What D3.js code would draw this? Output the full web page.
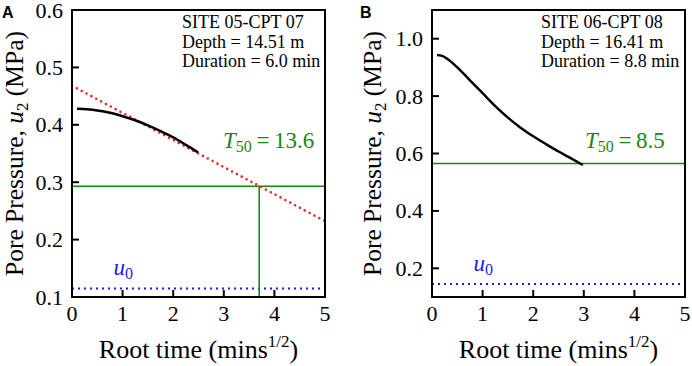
<!DOCTYPE html>
<html><head><meta charset="utf-8">
<script src="https://cdn.jsdelivr.net/npm/d3@7"></script>
<style>html,body{margin:0;padding:0;background:#fff;} svg{display:block;}</style>
</head><body>
<svg id="c" width="692" height="366"></svg>
<script>
// ---- data ----
const xTicks = [0, 1, 2, 3, 4, 5];
const yTicksA = [0.1, 0.2, 0.3, 0.4, 0.5, 0.6];
const yTicksB = [0.2, 0.4, 0.6, 0.8, 1.0];
const curveA = [[0.1,0.428],[0.3,0.427],[0.5,0.425],[0.75,0.421],[1.0,0.415],[1.25,0.408],[1.5,0.399],[1.75,0.389],[2.0,0.378],[2.25,0.365],[2.49,0.352]];
const tangentA = [[0,0.468],[5,0.232]];
const t50LevelA = 0.293, t50RootA = 3.7, u0A = 0.115;
const curveB = [[0.1,0.943],[0.2,0.94],[0.3,0.93],[0.5,0.90],[0.75,0.855],[1.0,0.81],[1.25,0.765],[1.5,0.725],[1.75,0.69],[2.0,0.66],[2.25,0.633],[2.5,0.607],[2.75,0.583],[2.98,0.56]];
const t50LevelB = 0.565, u0B = 0.145;
const infoA = ["SITE 05-CPT 07", "Depth = 14.51 m", "Duration = 6.0 min"];
const infoB = ["SITE 06-CPT 08", "Depth = 16.41 m", "Duration = 8.8 min"];
const t50TextA = "13.6", t50TextB = "8.5";

const svg = d3.select("#c");
const serif = "'Liberation Serif','Times New Roman',serif";
const GREEN = "#128a12", RED = "#ff2020", BLUE = "#1a1aff";

function panel(o) {
  const g = svg.append("g");
  const x = d3.scaleLinear().domain([0,5]).range([o.left, o.right]);
  const y = d3.scaleLinear().domain(o.ydom).range([297, 10]);
  const line = d3.line().x(d=>x(d[0])).y(d=>y(d[1]));

  // ticks inward
  g.selectAll(".xt").data(xTicks).join("line")
    .attr("x1", d=>x(d)).attr("x2", d=>x(d)).attr("y1", 297).attr("y2", 290)
    .attr("stroke","#000").attr("stroke-width",2);
  g.selectAll(".yt").data(o.yticks).join("line")
    .attr("x1", o.left).attr("x2", o.left+7).attr("y1", d=>y(d)).attr("y2", d=>y(d))
    .attr("stroke","#000").attr("stroke-width",2);
  g.selectAll(".xl").data(xTicks).join("text")
    .attr("x", d=>x(d)).attr("y", 321).attr("text-anchor","middle")
    .attr("font-family", serif).attr("font-size", 22).text(d=>d);
  g.selectAll(".yl").data(o.yticks).join("text")
    .attr("x", o.left-9).attr("y", d=>y(d)+7.5).attr("text-anchor","end")
    .attr("font-family", serif).attr("font-size", 22).text(d=>o.fmt(d));

  // u0 line
  g.append("path").attr("d", line([[0,o.u0],[5,o.u0]]))
    .attr("stroke", BLUE).attr("stroke-width", 2).attr("stroke-dasharray","2,4").attr("fill","none");
  const u0t = g.append("text").attr("x", x(0.82)).attr("y", y(o.u0)-13)
    .attr("font-family", serif).attr("font-size", 23).attr("fill", BLUE);
  u0t.append("tspan").attr("font-style","italic").text("u");
  u0t.append("tspan").attr("font-size", 16).attr("dy", 4).text("0");

  // green T50 lines
  g.append("path").attr("d", line([[0,o.t50],[5,o.t50]]))
    .attr("stroke", GREEN).attr("stroke-width", 1.6).attr("fill","none");
  if (o.t50root != null) {
    g.append("path").attr("d", line([[o.t50root,o.t50],[o.t50root,o.ydom[0]]]))
      .attr("stroke", GREEN).attr("stroke-width", 1.6).attr("fill","none");
  }
  // tangent
  if (o.tangent) {
    g.append("path").attr("d", line(o.tangent))
      .attr("stroke", RED).attr("stroke-width", 2.6).attr("stroke-linecap","round")
      .attr("stroke-dasharray","0,5.5").attr("fill","none");
  }
  // curve
  g.append("path").attr("d", d3.line().curve(d3.curveMonotoneX).x(d=>x(d[0])).y(d=>y(d[1]))(o.curve))
    .attr("stroke","#000").attr("stroke-width", 2.5).attr("fill","none");

  // T50 label
  const tt = g.append("text").attr("x", o.t50x).attr("y", 148)
    .attr("font-family", serif).attr("font-size", 23).attr("fill", GREEN);
  tt.append("tspan").attr("font-style","italic").text("T");
  tt.append("tspan").attr("font-size", 16).attr("dy", 4).text("50");
  tt.append("tspan").attr("dy", -4).text("\u2009=\u2009" + o.t50text);

  // info text
  g.selectAll(".info").data(o.info).join("text")
    .attr("x", o.infox).attr("y", (d,i)=>28+i*19.5)
    .attr("font-family", serif).attr("font-size", 18).text(d=>d);

  // frame
  g.append("rect").attr("x", o.left).attr("y", 10).attr("width", o.right-o.left).attr("height", 287)
    .attr("fill","none").attr("stroke","#000").attr("stroke-width", 2);

  // axis titles
  const xt = g.append("text").attr("x", (o.left+o.right)/2).attr("y", 358).attr("text-anchor","middle")
    .attr("font-family", serif).attr("font-size", 26);
  xt.append("tspan").text("Root time (mins");
  xt.append("tspan").attr("font-size", 17).attr("dy", -11).text("1/2");
  xt.append("tspan").attr("dy", 11).text(")");

  const yt = g.append("text").attr("transform", `translate(${o.ytx},153.5) rotate(-90)`)
    .attr("text-anchor","middle").attr("font-family", serif).attr("font-size", 25.5);
  yt.append("tspan").text("Pore Pressure, ");
  yt.append("tspan").attr("font-style","italic").text("u");
  yt.append("tspan").attr("font-size", 17).attr("dy", 5).text("2");
  yt.append("tspan").attr("dy", -5).text(" (MPa)");

  // panel letter
  g.append("text").attr("x", o.lx).attr("y", 18).attr("font-family","'Liberation Sans',Arial,sans-serif")
    .attr("font-weight","bold").attr("font-size", 16).text(o.letter);
}

panel({left:72, right:325, ydom:[0.1,0.6], yticks:yTicksA, fmt:d3.format(".1f"), u0:u0A,
  t50:t50LevelA, t50root:t50RootA, tangent:tangentA, curve:curveA, t50x:223, t50text:t50TextA,
  info:infoA, infox:182, ytx:22.5, lx:2, letter:"A"});
panel({left:432, right:685, ydom:[0.1,1.1], yticks:yTicksB, fmt:d3.format(".1f"), u0:u0B,
  t50:t50LevelB, t50root:null, tangent:null, curve:curveB, t50x:585, t50text:t50TextB,
  info:infoB, infox:541, ytx:381, lx:360, letter:"B"});
</script>
</body></html>
